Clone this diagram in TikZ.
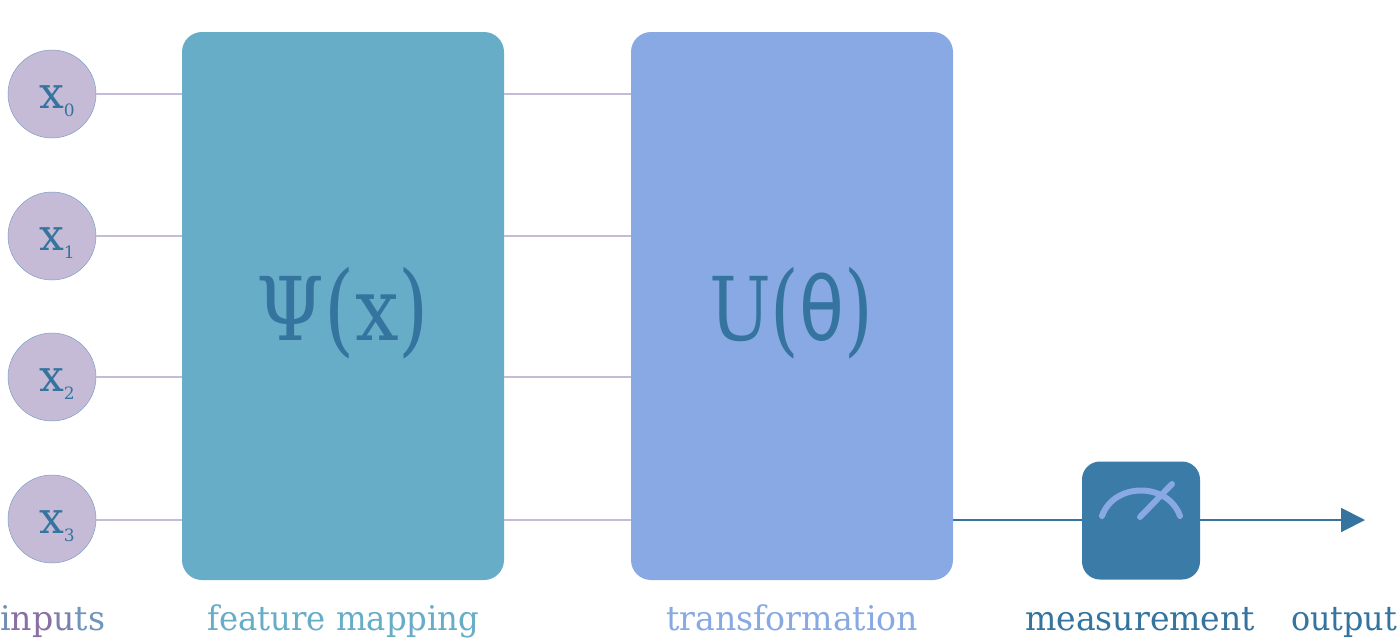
\documentclass[tikz,border=0pt]{standalone}
\usepackage{fontspec}
\usepackage{graphicx}
\setmainfont{DejaVu Serif}
\newfontfamily\thetafont{DejaVu Sans}
\definecolor{qteal}{HTML}{67ADC8}
\definecolor{qblue}{HTML}{88A9E3}
\definecolor{qdark}{HTML}{34749F}
\definecolor{qmeas}{HTML}{3B7BA8}
\definecolor{qpurple}{HTML}{C5BBD6}
\definecolor{qedge}{HTML}{7F9FC9}
\definecolor{qinA}{HTML}{6F8DB5}
\definecolor{qinB}{HTML}{8A6FA5}
\definecolor{qinC}{HTML}{7F7FAE}
\definecolor{qinD}{HTML}{6F95BC}
\usetikzlibrary{arrows.meta}
\newcommand{\fitw}[2]{\resizebox{#1pt}{\height}{#2}}
\newcommand{\qubit}[1]{\makebox[0pt][l]{\hspace{-13pt}\raisebox{-14pt}[0pt][0pt]{x\raisebox{-8pt}{\fontsize{17}{17}\selectfont #1}}}}
\newcommand{\tallp}[1]{\raisebox{-3pt}{\scalebox{1}[1.14]{#1}}}
\tikzset{
  inputnode/.style={circle,fill=qpurple,draw=qedge,line width=.5pt,minimum size=88pt,inner sep=0pt,text=qdark,font=\fontsize{44}{44}\selectfont},
  bigbox/.style={rectangle,rounded corners=20pt,minimum width=322pt,minimum height=548pt,inner sep=0pt},
  wire/.style={qpurple,line width=2pt},
  bigtext/.style={text=qdark,inner sep=0pt,anchor=base,font=\fontsize{88}{88}\selectfont},
  caption/.style={inner sep=0pt,anchor=base west,font=\fontsize{34}{34}\selectfont},
  outwire/.style={qdark,line width=2pt},
  meter/.style={qblue,line width=6pt,line cap=round}
}
\begin{document}
\begin{tikzpicture}[x=1pt,y=-1pt]
\useasboundingbox (0,0) rectangle (1400,640);
\fill[white] (0,0) rectangle (1400,640);
\node[bigbox,fill=qteal] (fmap) at (343,306) {};
\node[bigbox,fill=qblue] (umap) at (792,306) {};
\node[rectangle,rounded corners=18pt,minimum width=118pt,minimum height=118pt,inner sep=0pt,fill=qmeas] (meas) at (1141,520.5) {};
\node[inputnode] (x0) at (52,94) {\qubit{0}};
\node[inputnode] (x1) at (52,236) {\qubit{1}};
\node[inputnode] (x2) at (52,377) {\qubit{2}};
\node[inputnode] (x3) at (52,519) {\qubit{3}};
\draw[wire] (x0.east) -- (x0.east -| fmap.west);
\draw[wire] (x1.east) -- (x1.east -| fmap.west);
\draw[wire] (x2.east) -- (x2.east -| fmap.west);
\draw[wire] ([yshift=-1pt]x3.east) -- ([yshift=-1pt]x3.east -| fmap.west);
\draw[wire] (x0.east -| fmap.east) -- (x0.east -| umap.west);
\draw[wire] (x1.east -| fmap.east) -- (x1.east -| umap.west);
\draw[wire] (x2.east -| fmap.east) -- (x2.east -| umap.west);
\draw[wire] ([yshift=-1pt]x3.east -| fmap.east) -- ([yshift=-1pt]x3.east -| umap.west);
\draw[outwire] ([yshift=-1pt]x3.east -| umap.east) -- ([yshift=-1pt]x3.east -| meas.west);
\coordinate (outend) at (1365,520);
\draw[outwire,-{Triangle[length=24pt,width=24pt]}] (meas.east |- outend) -- (outend);
\draw[meter] (1102,516) .. controls (1114,482) and (1168,482) .. (1180,516);
\draw[meter] (1140,517) -- (1172,484);
\node[bigtext] (psi) at (343,340) {\fitw{172}{Ψ\tallp{(}x\tallp{)}}};
\node[bigtext] (theta) at (791,340) {\fitw{164}{U\tallp{(}{\thetafont θ}\tallp{)}}};
\node[caption] (l1) at (0,630) {\fitw{105}{\textcolor{qinA}{i}\textcolor{qinB}{np}\textcolor{qinC}{u}\textcolor{qinD}{ts}}};
\node[caption,text=qteal] (l2) at (207,630) {\fitw{272}{feature mapping}};
\node[caption,text=qblue] (l3) at (666,630) {\fitw{252}{transformation}};
\node[caption,text=qdark] (l4) at (1025,630) {\fitw{230}{measurement}};
\node[caption,text=qdark] (l5) at (1291,630) {\fitw{106}{output}};
\end{tikzpicture}
\end{document}
